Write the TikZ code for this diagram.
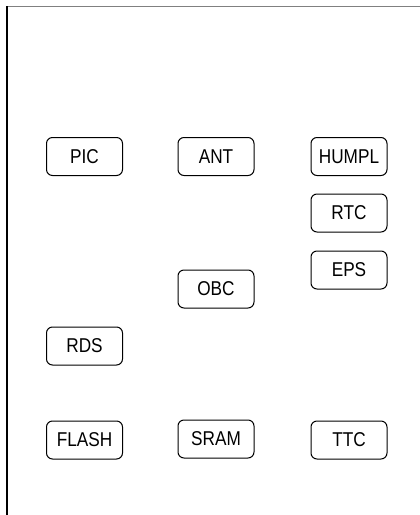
\documentclass[tikz,border=0pt]{standalone}
\usepackage{fontspec}
\setmainfont{Liberation Sans}[FakeStretch=0.86]
\begin{document}
\begin{tikzpicture}[x=1pt, y=-1pt,
    every node/.style={font=\fontsize{20}{22}\selectfont},
    blk/.style={draw, rounded corners=6pt, line width=1pt,
        minimum width=76pt, minimum height=38pt, inner sep=0pt}]
    \useasboundingbox (0,0) rectangle (420,515);

    % Рамка
    \draw[gray, line width=1.8pt] (7,6.5) -- (420,6.5);
    \draw[line width=1.3pt] (7,6) -- (7,515);

    % Первая колонка
    \node[blk] (pic)   at (84.5,156.5) {PIC};
    \node[blk] (rds)   at (84.5,346) {RDS};
    \node[blk] (flash) at (84.5,440) {FLASH};

    % Вторая колонка
    \node[blk] (ant)  at (216,156.5) {ANT};
    \node[blk] (obc)  at (216,289) {OBC};
    \node[blk] (sram) at (216,439) {SRAM};

    % Третья колонка
    \node[blk] (humpl) at (349,156.5) {HUMPL};
    \node[blk] (rtc)   at (349,213) {RTC};
    \node[blk] (eps)   at (349,270) {EPS};
    \node[blk] (ttc)   at (349,440) {TTC};
\end{tikzpicture}
\end{document}
